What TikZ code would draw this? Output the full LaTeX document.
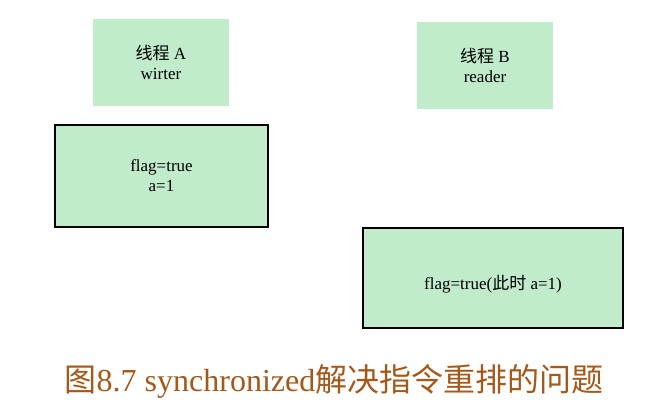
\documentclass[tikz,border=0pt]{standalone}
\usepackage{fontspec}
\setmainfont{Liberation Serif}
\newfontfamily\cjk{Noto Sans CJK SC}
\definecolor{boxgreen}{RGB}{192,236,204}
\definecolor{captionbrown}{RGB}{164,88,26}
\begin{document}
\begin{tikzpicture}[x=1pt,y=-1pt,
    thread/.style={fill=boxgreen,minimum width=136pt,minimum height=87pt,align=center,font=\fontsize{17}{20}\selectfont},
    state/.style={fill=boxgreen,draw=black,line width=1.1pt,align=center,font=\fontsize{17}{20}\selectfont}]
    \useasboundingbox (0,0) rectangle (662,410);
    % threads
    \node[thread] (threadA) at (161,62.5) {{\cjk 线程} A\\wirter};
    \node[thread] (threadB) at (485,65) {{\cjk 线程} B\\reader};
    % memory states
    \node[state,minimum width=213pt,minimum height=102pt] (writeBox) at (161.5,176) {flag=true\\a=1};
    \node[state,minimum width=260pt,minimum height=100pt,text height=26pt,text depth=4pt] (readBox) at (493,278) {flag=true({\cjk 此时} a=1)};
    % caption
    \node[text=captionbrown,font=\fontsize{32}{36}\selectfont] (caption) at (334,381) {{\cjk 图}8.7 synchronized{\cjk 解决指令重排的问题}};
\end{tikzpicture}
\end{document}
